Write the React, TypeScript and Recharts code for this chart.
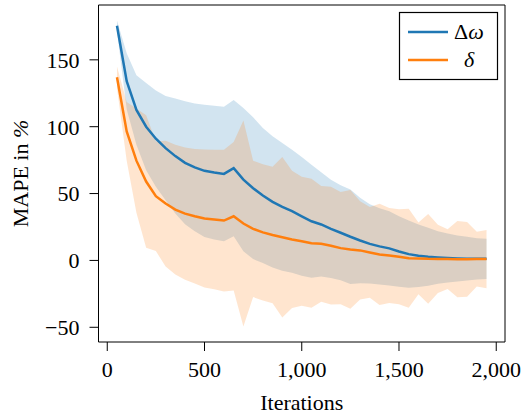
import React from 'react';
import {
  ComposedChart,
  Area,
  Line,
  XAxis,
  YAxis,
  ReferenceLine,
} from 'recharts';

// iterations at which the error was evaluated
const iterations = [
  50, 100, 150, 200, 250, 300, 350, 400, 450, 500, 550, 600, 650, 700, 750, 800, 850, 900, 950, 1000,
  1050, 1100, 1150, 1200, 1250, 1300, 1350, 1400, 1450, 1500, 1550, 1600, 1650, 1700, 1750, 1800,
  1850, 1900, 1950,
];

// Δω: mean and std of MAPE
const omegaMean = [
  175.5, 134, 112.5, 100, 91, 84, 78, 73, 69.6, 67, 65.7, 64.7, 69, 60.4, 54, 48.5, 43.8, 40, 36.8, 33,
  29.3, 26.9, 23.6, 20.7, 17.7, 14.9, 12.4, 10.5, 9, 6.7, 4.7, 3.5, 2.7, 2.2, 1.8, 1.5, 1.3, 1.2, 1.2,
];
const omegaStd = [
  4, 21, 26, 32.6, 36, 39, 43, 46, 47.8, 49.4, 50, 50.3, 51, 53.6, 53, 50.5, 49, 47.8, 46, 44.4,
  42.3, 39, 36.8, 35.5, 35.3, 31.9, 29.6, 28.5, 27.8, 26.3, 25.1, 23.4, 21.7, 19.7, 18.3, 17.2, 16.4, 15.4, 15,
];

// δ: mean and std of MAPE
const deltaMean = [
  137, 96.5, 74.6, 59, 48, 42.5, 38, 35, 33, 31.3, 30.6, 29.8, 33, 27.6, 23.6, 21, 19, 17.4, 15.7, 14.4,
  12.9, 12.4, 11, 9.2, 8.2, 7.5, 6, 4.5, 3.7, 2.8, 1.7, 1.5, 1.2, 1.1, 1, 0.9, 0.8, 1, 1,
];
const deltaStd = [
  8, 22, 39, 49.5, 41, 47, 48.5, 49.5, 50.3, 51.6, 52.2, 53, 55.5, 77, 51, 51, 51, 60, 51.3, 48.2,
  48.2, 43.3, 44, 42, 44.4, 36.7, 34, 37.8, 35.5, 35.5, 37, 26.8, 33.6, 25.5, 22.3, 28.5, 28, 20.5, 21.8,
];

const xTicks = [0, 500, 1000, 1500, 2000];
const yTicks = [-50, 0, 50, 100, 150];

const BLUE = '#1f77b4';
const ORANGE = '#ff7f0e';
const FONT = 'Liberation Serif';

const data = iterations.map((it, i) => ({
  iter: it,
  omega: omegaMean[i],
  delta: deltaMean[i],
  omegaBand: [omegaMean[i] - omegaStd[i], omegaMean[i] + omegaStd[i]],
  deltaBand: [deltaMean[i] - deltaStd[i], deltaMean[i] + deltaStd[i]],
}));

const fmtX = (v: number) => v.toLocaleString('en-US');
const fmtY = (v: number) => String(v).replace('-', '\u2212');

const XTick = (props: any) => {
  const { x, y, payload } = props;
  return (
    <text x={x} y={y} dy="0.71em" textAnchor="middle" fontSize={22} fontFamily={FONT} fill="#000">
      {fmtX(payload.value)}
    </text>
  );
};

const YTick = (props: any) => {
  const { x, y, payload } = props;
  return (
    <text x={x} y={y} dy="0.36em" textAnchor="end" fontSize={22} fontFamily={FONT} fill="#000">
      {fmtY(payload.value)}
    </text>
  );
};

const YLabel = (props: any) => {
  const { viewBox } = props;
  const cy = viewBox.y + viewBox.height / 2;
  return (
    <text
      x={28}
      y={cy}
      transform={`rotate(-90, 28, ${cy})`}
      textAnchor="middle"
      fontSize={22}
      fontFamily={FONT}
      fill="#000"
    >
      MAPE in <tspan fontStyle="italic">%</tspan>
    </text>
  );
};

const XLabel = (props: any) => {
  const { viewBox } = props;
  const cx = viewBox.x + viewBox.width / 2;
  return (
    <text x={cx} y={410} textAnchor="middle" fontSize={22} fontFamily={FONT} fill="#000">
      Iterations
    </text>
  );
};

const LegendBox = () => (
  <svg
    width={523}
    height={418}
    style={{ position: 'absolute', left: 0, top: 0, pointerEvents: 'none' }}
  >
    <rect x={399.5} y={12.5} width={98} height={67} fill="#fff" stroke="#000" strokeWidth={1.2} />
    <line x1={408} x2={448} y1={32} y2={32} stroke={BLUE} strokeWidth={2.5} />
    <line x1={408} x2={448} y1={60} y2={60} stroke={ORANGE} strokeWidth={2.5} />
    <text x={454} y={39} fontSize={22} fontFamily={FONT} fill="#000">
      Δ<tspan fontStyle="italic">ω</tspan>
    </text>
    <text x={469} y={67} fontSize={22} fontFamily={FONT} fontStyle="italic" fill="#000" textAnchor="middle">
      δ
    </text>
  </svg>
);

export default function App() {
  return (
    <div style={{ position: 'absolute', left: 0, top: 0, width: 523, height: 418, background: '#fff' }}>
      <ComposedChart
        width={523}
        height={418}
        data={data}
        margin={{ top: 5, right: 18, bottom: 16, left: 0 }}
      >
        <XAxis
          dataKey="iter"
          type="number"
          domain={[-45, 2045]}
          ticks={xTicks}
          tick={<XTick />}
          tickSize={9}
          tickMargin={10}
          height={60}
          axisLine={{ stroke: '#000' }}
          tickLine={{ stroke: '#000' }}
          interval={0}
          label={<XLabel />}
        />
        <YAxis
          type="number"
          domain={[-61, 191]}
          ticks={yTicks}
          tick={<YTick />}
          tickSize={9}
          tickMargin={10}
          width={98.5}
          axisLine={{ stroke: '#000' }}
          tickLine={{ stroke: '#000' }}
          interval={0}
          allowDataOverflow
          label={<YLabel />}
        />
        <ReferenceLine y={191} stroke="#000" />
        <ReferenceLine x={2045} stroke="#000" />
        <Area
          type="linear"
          dataKey="omegaBand"
          stroke="none"
          fill={BLUE}
          fillOpacity={0.2}
          isAnimationActive={false}
        />
        <Area
          type="linear"
          dataKey="deltaBand"
          stroke="none"
          fill={ORANGE}
          fillOpacity={0.2}
          isAnimationActive={false}
        />
        <Line
          type="linear"
          dataKey="omega"
          stroke={BLUE}
          strokeWidth={2.5}
          dot={false}
          isAnimationActive={false}
        />
        <Line
          type="linear"
          dataKey="delta"
          stroke={ORANGE}
          strokeWidth={2.5}
          dot={false}
          isAnimationActive={false}
        />
      </ComposedChart>
      <LegendBox />
    </div>
  );
}
